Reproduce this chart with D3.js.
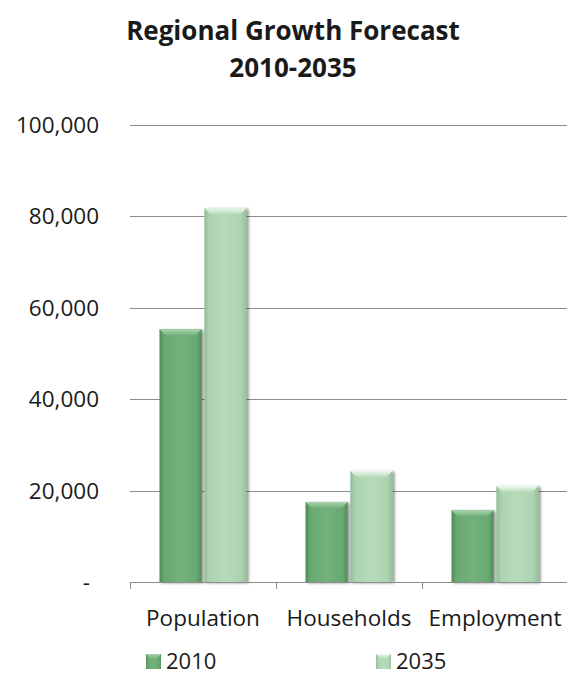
<!DOCTYPE html>
<html>
<head>
<meta charset="utf-8">
<script src="https://cdn.jsdelivr.net/npm/d3@7"></script>
<style>
  html, body { margin: 0; padding: 0; background: #ffffff; }
  svg { display: block; font-family: "Open Sans", Lato, sans-serif; }
</style>
</head>
<body>
<svg id="chart" width="567" height="677"></svg>
<script>
// Forecast data
const categories = ["Population", "Households", "Employment"];
const seriesNames = ["2010", "2035"];
const values2010 = [55300, 17500, 15700];
const values2035 = [81800, 24300, 21000];
const yTicks = [0, 20000, 40000, 60000, 80000, 100000];

const svg = d3.select("#chart");
const plot = { left: 130, right: 568, top: 125, bottom: 582 };

const defs = svg.append("defs");

// Bevel-like gradients for each series
function barGradient(id, edge, mid, light) {
  const g = defs.append("linearGradient").attr("id", id)
    .attr("x1", "0%").attr("x2", "100%").attr("y1", "0%").attr("y2", "0%");
  g.append("stop").attr("offset", "0%").attr("stop-color", edge);
  g.append("stop").attr("offset", "12%").attr("stop-color", mid);
  g.append("stop").attr("offset", "50%").attr("stop-color", light);
  g.append("stop").attr("offset", "88%").attr("stop-color", mid);
  g.append("stop").attr("offset", "100%").attr("stop-color", edge);
}
barGradient("g2010", "#4f8d58", "#69a872", "#72b27b");
barGradient("g2035", "#93bd98", "#acd3b0", "#b7dbba");

function topGradient(id, top, bottom) {
  const g = defs.append("linearGradient").attr("id", id)
    .attr("x1", "0%").attr("x2", "0%").attr("y1", "0%").attr("y2", "100%");
  g.append("stop").attr("offset", "0%").attr("stop-color", top);
  g.append("stop").attr("offset", "100%").attr("stop-color", bottom);
}
topGradient("t2010", "#a9d4ae", "#72b27b");
topGradient("t2035", "#eef8ef", "#b7dbba");

const shadow = defs.append("filter").attr("id", "shadow")
  .attr("x", "-30%").attr("y", "-10%").attr("width", "160%").attr("height", "120%");
shadow.append("feDropShadow").attr("dx", 2).attr("dy", 1)
  .attr("stdDeviation", 1.6).attr("flood-color", "#000").attr("flood-opacity", 0.45);

// Scales
const y = d3.scaleLinear().domain([0, 100000]).range([plot.bottom, plot.top]);
const x0 = d3.scaleBand().domain(categories).range([plot.left, plot.right])
  .paddingInner(0.404).paddingOuter(0.202);
const x1 = d3.scaleBand().domain(seriesNames).range([0, x0.bandwidth()]).padding(0.06).paddingOuter(0);

// Title
const title = svg.append("text").attr("text-anchor", "middle")
  .attr("font-weight", "bold").attr("font-size", 26).attr("fill", "#1a1a1a");
title.append("tspan").attr("x", 293).attr("y", 40).text("Regional Growth Forecast");
title.append("tspan").attr("x", 293).attr("y", 77).text("2010-2035");

// Gridlines
svg.append("g").selectAll("line").data(yTicks.filter(d => d > 0)).join("line")
  .attr("x1", plot.left).attr("x2", plot.right)
  .attr("y1", d => Math.round(y(d)) + 0.5).attr("y2", d => Math.round(y(d)) + 0.5)
  .attr("stroke", "#8c8c8c").attr("stroke-width", 1);

// Y axis labels
const fmt = d => d === 0 ? "-" : d3.format(",")(d);
svg.append("g").selectAll("text").data(yTicks).join("text")
  .attr("x", d => d === 0 ? 90 : 99).attr("y", d => y(d) + 8)
  .attr("text-anchor", "end").attr("font-size", 22.5).attr("fill", "#1a1a1a")
  .text(fmt);

// Bars
const rows = categories.map((c, i) => ({ cat: c, vals: [values2010[i], values2035[i]] }));
const groups = svg.append("g").selectAll("g").data(rows).join("g")
  .attr("transform", d => `translate(${x0(d.cat)},0)`);

const bars = groups.selectAll("g.bar").data(d => d.vals.map((v, j) => ({ s: seriesNames[j], v })))
  .join("g").attr("class", "bar");

bars.append("rect")
  .attr("x", d => x1(d.s)).attr("width", x1.bandwidth())
  .attr("y", d => y(d.v)).attr("height", d => y(0) - y(d.v))
  .attr("fill", d => `url(#g${d.s})`).attr("filter", "url(#shadow)");

// Bevelled cap at the top of each bar
bars.append("path")
  .attr("d", d => {
    const xl = x1(d.s), w = x1.bandwidth(), t = y(d.v), b = 6;
    return `M${xl},${t} L${xl + w},${t} L${xl + w - b},${t + b} L${xl + b},${t + b} Z`;
  })
  .attr("fill", d => `url(#t${d.s})`);

// Category axis
const xAxis = svg.append("g");
xAxis.append("line").attr("x1", plot.left).attr("x2", plot.right)
  .attr("y1", plot.bottom + 0.5).attr("y2", plot.bottom + 0.5)
  .attr("stroke", "#8c8c8c");
const tickXs = categories.map(c => x0(c) - x0.step() * x0.paddingOuter());
xAxis.selectAll("line.tick").data(tickXs).join("line").attr("class", "tick")
  .attr("x1", d => Math.round(d) + 0.5).attr("x2", d => Math.round(d) + 0.5)
  .attr("y1", plot.bottom).attr("y2", plot.bottom + 7).attr("stroke", "#8c8c8c");
xAxis.selectAll("text").data(categories).join("text")
  .attr("x", d => x0(d) + x0.bandwidth() / 2).attr("y", 626)
  .attr("text-anchor", "middle").attr("font-size", 22.5).attr("fill", "#1a1a1a")
  .text(d => d);

// Legend
const legendX = [146, 376];
const legend = svg.append("g").selectAll("g").data(seriesNames).join("g")
  .attr("transform", (d, i) => `translate(${legendX[i]},654)`);
legend.append("rect").attr("width", 15).attr("height", 15)
  .attr("fill", d => `url(#g${d})`);
legend.append("path").attr("d", "M0,0 L15,0 L10,5 L5,5 Z")
  .attr("fill", d => `url(#t${d})`);
legend.append("text").attr("x", 20).attr("y", 15)
  .attr("font-size", 22).attr("fill", "#1a1a1a").text(d => d);
</script>
</body>
</html>
